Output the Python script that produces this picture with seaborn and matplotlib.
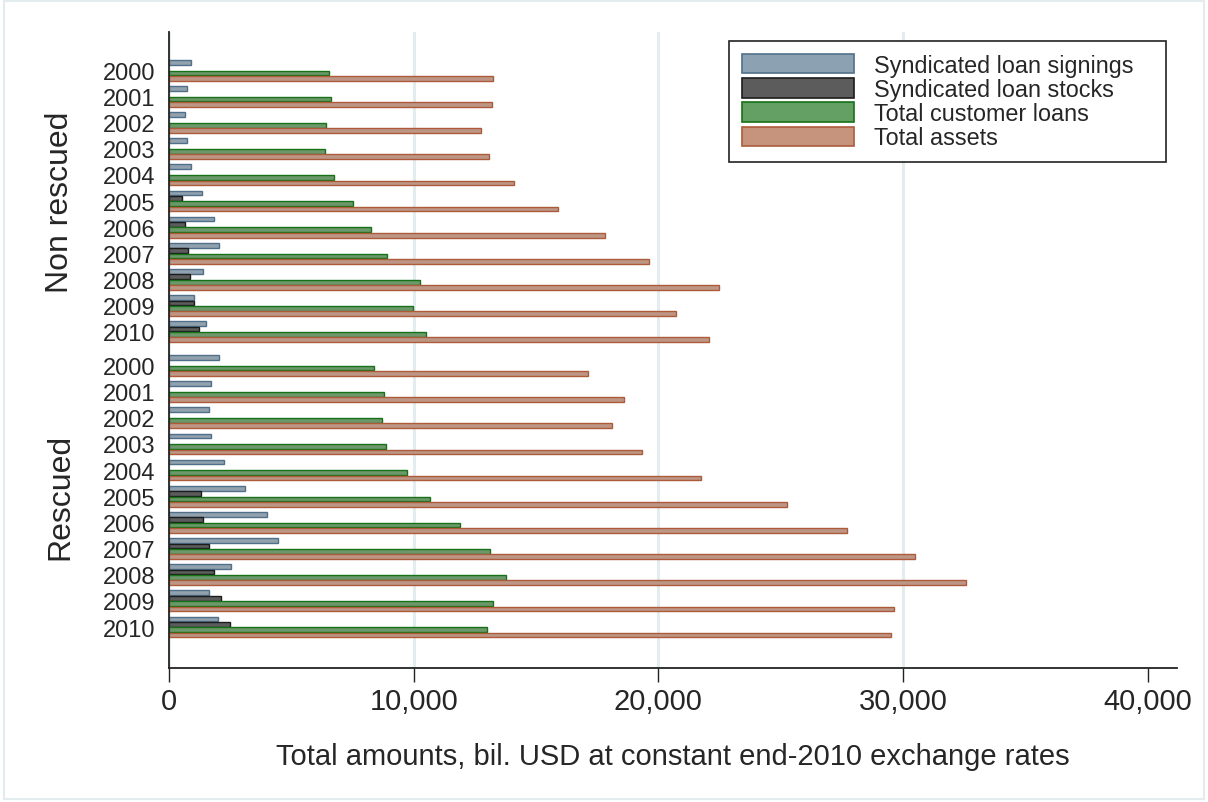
import numpy as np
import pandas as pd
import matplotlib
matplotlib.use('Agg')
import matplotlib.pyplot as plt
import matplotlib.patches as mpatches
import seaborn as sns

sns.set_theme(style='white')
plt.rcParams['font.family'] = ['Liberation Sans', 'DejaVu Sans']

"""
Data (bil. USD at constant end-2010 exchange rates), read off the chart
"""
years = [2000, 2001, 2002, 2003, 2004, 2005, 2006, 2007, 2008, 2009, 2010]
groups = ['Non rescued', 'Rescued']
series = ['Syndicated loan signings', 'Syndicated loan stocks',
          'Total customer loans', 'Total assets']

# non rescued banks
nr_signings = [900, 720, 670, 720, 900, 1330, 1830, 2060, 1400, 1030, 1510]
nr_stocks = [np.nan, np.nan, np.nan, np.nan, np.nan, 550, 670, 780, 850, 1030, 1210]
nr_cust_loans = [6540, 6600, 6430, 6380, 6730, 7530, 8260, 8920, 10260, 9960, 10500]
nr_assets = [13240, 13190, 12740, 13060, 14090, 15910, 17800, 19600, 22480, 20720, 22050]

# rescued banks
r_signings = [2060, 1700, 1630, 1700, 2250, 3090, 4000, 4440, 2550, 1630, 2000]
r_stocks = [np.nan, np.nan, np.nan, np.nan, np.nan, 1320, 1390, 1620, 1830, 2130, 2490]
r_cust_loans = [8380, 8800, 8690, 8870, 9710, 10680, 11890, 13100, 13790, 13240, 13000]
r_assets = [17140, 18590, 18100, 19330, 21750, 25270, 27690, 30490, 32570, 29640, 29520]

fills = ['#8ca2b2', '#5c5c5c', '#64a064', '#c6937c']
edges = ['#50708a', '#1c1c1c', '#177217', '#ad5b3a']

# long table, rescued group pushed a bit further down to leave a gap
group_gap = 1.285
rows = []
for g, vals in [('Non rescued', [nr_signings, nr_stocks, nr_cust_loans, nr_assets]),
                ('Rescued', [r_signings, r_stocks, r_cust_loans, r_assets])]:
    offset = 0 if g == 'Non rescued' else len(years) - 1 + group_gap
    for s, v in zip(series, vals):
        for i, (yr, val) in enumerate(zip(years, v)):
            rows.append({'group': g, 'year': yr, 'pos': offset + i, 'series': s, 'value': val})
df = pd.DataFrame(rows)

"""
Plot
"""
fig = plt.figure(figsize=(12.08, 8.03), dpi=100)
ax = fig.add_axes([0.1399, 0.1669, 0.8344, 0.7920])

sns.barplot(data=df.dropna(), x='value', y='pos', hue='series', hue_order=series,
            palette=fills, orient='h', native_scale=True, width=0.82, gap=0.12,
            errorbar=None, ax=ax, linewidth=1.0)

for cont, ec in zip(ax.containers, edges):
    for bar in cont:
        bar.set_edgecolor(ec)

ax.set_xlim(0, 41190)
ax.set_ylim(22.85, -1.46)

ax.set_xticks([0, 10000, 20000, 30000, 40000])
ax.set_xticklabels(['0', '10,000', '20,000', '30,000', '40,000'], fontsize=21)
ax.tick_params(axis='x', length=10, width=1, color='#222222', pad=4, bottom=True)

ypos = df[df.series == series[0]].drop_duplicates('pos')
ax.set_yticks(ypos['pos'])
ax.set_yticklabels(ypos['year'].astype(str), fontsize=17)
ax.tick_params(axis='y', length=0, pad=10)

ax.xaxis.grid(True, color='#e3ecef', linewidth=2.2)
ax.yaxis.grid(False)
ax.get_xgridlines()[-1].set_visible(False)
ax.set_axisbelow(True)

for side in ['top', 'right']:
    ax.spines[side].set_visible(False)
for side in ['left', 'bottom']:
    ax.spines[side].set_color('#222222')
    ax.spines[side].set_linewidth(1.3)

ax.set_xlabel('Total amounts, bil. USD at constant end-2010 exchange rates', fontsize=21, labelpad=19)
ax.set_ylabel('')

# group labels on the left
for g in groups:
    centre = df.loc[df.group == g, 'pos'].mean()
    ax.text(-0.108, centre, g, rotation=90, ha='center', va='center', fontsize=23,
            transform=ax.get_yaxis_transform())

# legend (trailing spaces give the wider right margin of the original key)
handles = [mpatches.Patch(facecolor=f, edgecolor=e, linewidth=1.2) for f, e in zip(fills, edges)]
leg = ax.legend(handles, [s + '   ' for s in series], loc='upper right',
                bbox_to_anchor=(0.989, 0.986), borderaxespad=0, fontsize=16.8,
                handlelength=4.8, handleheight=0.9, handletextpad=0.85, labelspacing=0.05,
                borderpad=0.55, fancybox=False, framealpha=1, edgecolor='#222222')
leg.get_frame().set_linewidth(1.2)

# light outer border as in the original graph region
fig.patches.append(mpatches.Rectangle((0.003, 0.004), 0.994, 0.993, transform=fig.transFigure,
                                      fill=False, edgecolor='#e4ebee', linewidth=1.5))

fig.savefig('out.png', dpi=100)
